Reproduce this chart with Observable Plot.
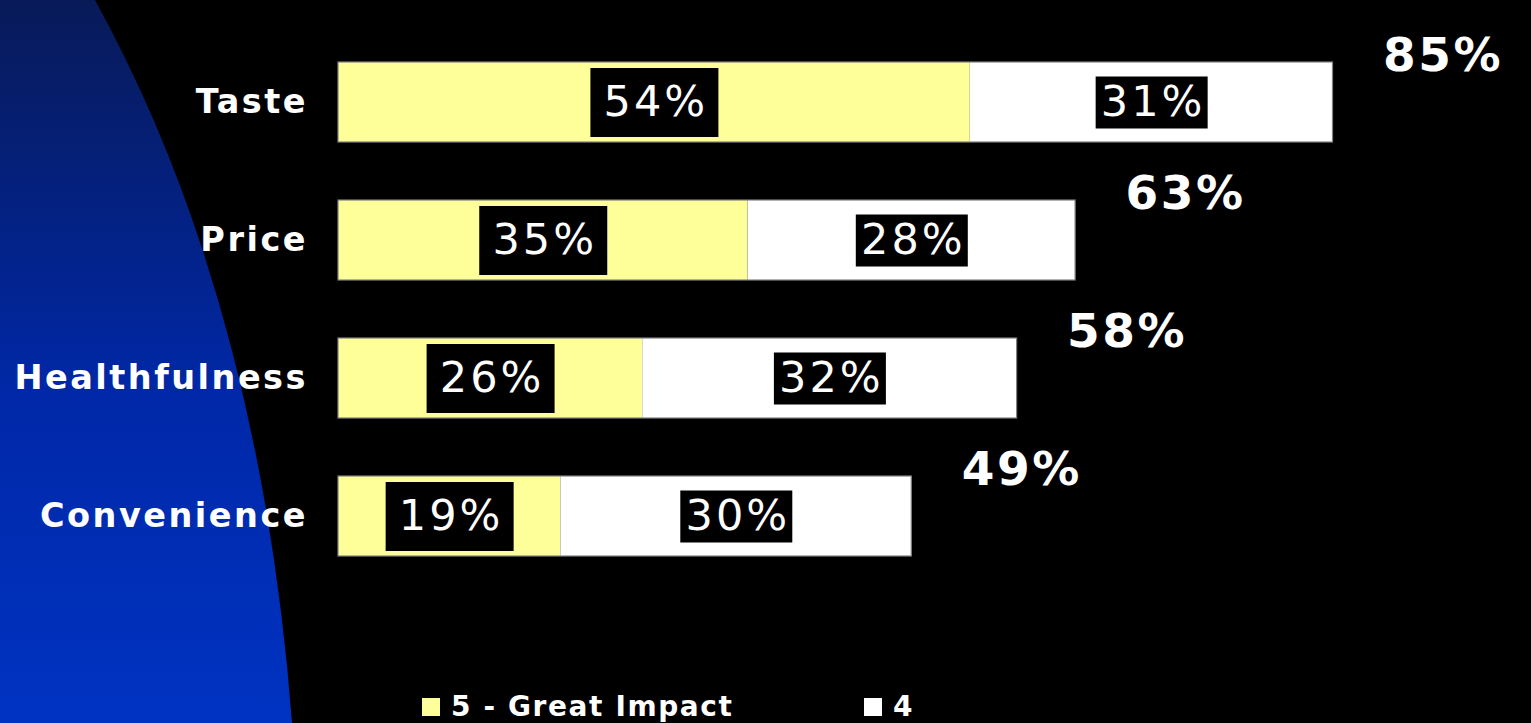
<!DOCTYPE html>
<html>
<head>
<meta charset="utf-8">
<script src="https://cdn.jsdelivr.net/npm/d3@7"></script>
<script src="https://cdn.jsdelivr.net/npm/@observablehq/plot@0.6"></script>
<style>
  html, body { margin: 0; padding: 0; background: #000; overflow: hidden; }
  #wrap { position: relative; width: 1531px; height: 723px; background: #000; }
  #bg { position: absolute; left: 0; top: 0; z-index: 0; }
  #chart { position: relative; z-index: 1; }
  #chart svg { display: block; }
  #chart text[aria-label="segment label"] { letter-spacing: 3px; }
  #chart text[aria-label="total label"] { letter-spacing: 2.5px; }
  #chart g[aria-label="y-axis tick label"] text { letter-spacing: 2.5px; }
  #legend { position: relative; z-index: 1; display: flex; align-items: center; height: 33px; padding-top: 10px;
            padding-left: 422px; font-family: "DejaVu Sans", sans-serif; font-weight: bold; font-size: 28px;
            letter-spacing: 1.6px; color: #fff; }
  .item { display: flex; align-items: center; }
  .sw { width: 18px; height: 18px; margin-right: 11px; }
</style>
</head>
<body>
<div id="wrap">
  <div id="chart"></div>
  <div id="legend"></div>
</div>
<script>
// ---- Data ----
const categories = ["Taste", "Price", "Healthfulness", "Convenience"];
const seriesNames = ["5 - Great Impact", "4"];
const greatImpact = [54, 35, 26, 19];
const four = [31, 28, 32, 30];
const totals = [85, 63, 58, 49];
const seriesColors = ["#FFFF99", "#FFFFFF"];

// ---- Build tables from the arrays ----
const segs = [];
categories.forEach((c, i) => {
  segs.push({category: c, level: seriesNames[0], value: greatImpact[i], start: 0, end: greatImpact[i]});
  segs.push({category: c, level: seriesNames[1], value: four[i], start: greatImpact[i], end: greatImpact[i] + four[i]});
});
segs.forEach(d => d.mid = (d.start + d.end) / 2);
const totalRows = categories.map((c, i) => ({category: c, total: totals[i]}));

// label box symbols (fixed-size rectangles)
const boxBig = {draw(ctx) { ctx.rect(-64, -34.5, 128, 69); }};
const boxSmall = {draw(ctx) { ctx.rect(-56, -26, 112, 52); }};

// ---- Decorative background shape ----
const W = 1531, H = 723;
const bg = d3.select("#wrap").insert("svg", ":first-child").attr("id", "bg").attr("width", W).attr("height", H);
const grad = bg.append("defs").append("linearGradient").attr("id", "blueGrad")
  .attr("x1", 0).attr("y1", 0).attr("x2", 0).attr("y2", 1);
grad.append("stop").attr("offset", "0%").attr("stop-color", "#081a58");
grad.append("stop").attr("offset", "55%").attr("stop-color", "#0028a8");
grad.append("stop").attr("offset", "100%").attr("stop-color", "#0033c2");
bg.append("path").attr("d", "M0,0 L95,0 Q260,300 292,723 L0,723 Z").attr("fill", "url(#blueGrad)");

// ---- Chart ----
const chart = Plot.plot({
  width: W,
  height: 680,
  marginLeft: 338,
  marginRight: 23,
  marginTop: 2,
  marginBottom: 64,
  style: {background: "transparent", color: "#fff", overflow: "visible"},
  x: {domain: [0, 100], axis: null},
  y: {domain: categories, padding: 0.42, axis: null},
  color: {domain: seriesNames, range: seriesColors},
  marks: [
    Plot.barX(segs, {x1: "start", x2: "end", y: "category", fill: "level"}),
    Plot.barX(totalRows, {x1: 0, x2: "total", y: "category", fill: "none", stroke: "#808080", strokeWidth: 1.2}),
    Plot.dot(segs.filter(d => d.level === seriesNames[0]), {x: "mid", y: "category", symbol: boxBig, r: 3, fill: "#000", stroke: "none"}),
    Plot.dot(segs.filter(d => d.level === seriesNames[1]), {x: "mid", y: "category", symbol: boxSmall, r: 3, fill: "#000", stroke: "none"}),
    Plot.text(segs, {x: "mid", y: "category", text: d => d.value + "%", fill: "#fff", dx: 1.5,
      fontSize: 43, fontFamily: "DejaVu Sans", ariaLabel: () => "segment label"}),
    Plot.text(totalRows, {x: "total", y: "category", text: d => d.total + "%", fill: "#fff",
      textAnchor: "start", dx: 50, dy: -47, fontSize: 47, fontWeight: "bold", fontFamily: "DejaVu Sans",
      ariaLabel: () => "total label"}),
    Plot.axisY({tickSize: 0, tickPadding: 30.5, fontSize: 33.5, fontWeight: "bold", fontFamily: "DejaVu Sans", label: null})
  ]
});
document.getElementById("chart").appendChild(chart);

// ---- Legend ----
const legend = d3.select("#legend");
seriesNames.forEach((name, i) => {
  const item = legend.append("div").attr("class", "item").style("width", i === 0 ? "442px" : null);
  item.append("div").attr("class", "sw").style("background", seriesColors[i]);
  item.append("span").text(name);
});
</script>
</body>
</html>
